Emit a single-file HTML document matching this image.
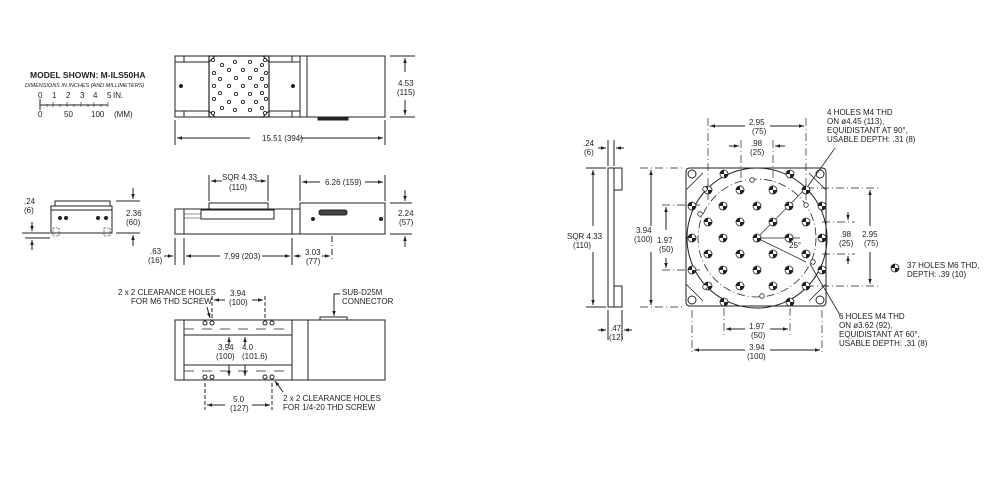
<!DOCTYPE html>
<html><head><meta charset="utf-8"><style>
body{margin:0;background:#fff;}
svg{display:block;font-family:"Liberation Sans",sans-serif;}
text{font-size:8px;fill:#222;}
</style></head><body>
<svg width="999" height="499" viewBox="0 0 999 499" xmlns="http://www.w3.org/2000/svg">
<defs>
<marker id="a" viewBox="0 0 10 10" refX="10" refY="5" markerWidth="7" markerHeight="5" orient="auto-start-reverse"><path d="M0,1.5 L10,5 L0,8.5z" fill="#222"/></marker>
<g id="h"><circle r="4" fill="#fff" stroke="#222" stroke-width="0.8"/><path d="M0,0 L4,0 A4,4 0 0 1 0,4z M0,0 L-4,0 A4,4 0 0 1 0,-4z" fill="#222"/></g>
<g id="s"><circle r="2.3" fill="#fff" stroke="#222" stroke-width="0.8"/></g>
<g id="t"><circle r="1.6" fill="#fff" stroke="#222" stroke-width="0.9"/></g>
</defs>
<g stroke="#222" fill="none" stroke-width="1">
<line x1="40" y1="105" x2="108" y2="105"/><line x1="40" y1="99" x2="40" y2="110"/>
<g stroke-width="0.6"><line x1="53" y1="102" x2="53" y2="107"/><line x1="67" y1="102" x2="67" y2="107"/><line x1="81" y1="102" x2="81" y2="107"/><line x1="94" y1="102" x2="94" y2="107"/><line x1="108" y1="102" x2="108" y2="107"/><line x1="47" y1="104" x2="47" y2="107"/><line x1="60" y1="104" x2="60" y2="107"/><line x1="74" y1="104" x2="74" y2="107"/><line x1="88" y1="104" x2="88" y2="107"/><line x1="101" y1="104" x2="101" y2="107"/></g>

<rect x="175" y="56" width="210" height="61"/>
<line x1="175" y1="62" x2="300" y2="62"/><line x1="175" y1="111" x2="300" y2="111"/>
<line x1="184" y1="56" x2="184" y2="62"/><line x1="184" y1="111" x2="184" y2="117"/>
<line x1="292" y1="56" x2="292" y2="62"/><line x1="292" y1="111" x2="292" y2="117"/>
<line x1="300" y1="56" x2="300" y2="117"/><line x1="307" y1="56" x2="307" y2="117"/>
<rect x="209" y="56" width="60" height="61" stroke-width="1.2" fill="#fff"/>
<path d="M209,62 L215,56 M263,56 L269,62 M209,111 L215,117 M263,117 L269,111"/>
<circle cx="181" cy="86" r="1.5" fill="#222"/><circle cx="293" cy="86" r="1.5" fill="#222"/>
<rect x="318" y="117" width="30" height="3" fill="#222"/>
<line x1="175" y1="120" x2="175" y2="145"/><line x1="385" y1="120" x2="385" y2="145"/>
<line x1="177" y1="138" x2="250" y2="138" marker-start="url(#a)"/><line x1="300" y1="138" x2="383" y2="138" marker-end="url(#a)"/>
<line x1="390" y1="56" x2="415" y2="56"/><line x1="390" y1="117" x2="415" y2="117"/>
<line x1="405" y1="58" x2="405" y2="72" marker-start="url(#a)"/><line x1="405" y1="100" x2="405" y2="115" marker-end="url(#a)"/>

<rect x="175" y="209" width="125" height="25"/>
<rect x="300" y="203" width="85" height="31"/>
<line x1="184" y1="209" x2="184" y2="234"/><line x1="292" y1="209" x2="292" y2="234"/>
<line x1="184" y1="214" x2="201" y2="214" stroke-width="0.5"/><line x1="184" y1="218" x2="201" y2="218" stroke-width="0.5"/>
<rect x="201" y="210" width="73" height="9"/>
<rect x="209" y="203" width="59" height="7"/>
<rect x="319" y="210" width="28" height="5" rx="2" fill="#444"/>
<circle cx="313" cy="219" r="1.5" fill="#222"/><circle cx="381" cy="219" r="1.5" fill="#222"/>
<line x1="332" y1="236" x2="332" y2="262" stroke-dasharray="6,3,1,3"/>
<line x1="209" y1="175" x2="209" y2="201"/><line x1="268" y1="175" x2="268" y2="201"/>
<line x1="211" y1="181" x2="222" y2="181" marker-start="url(#a)"/><line x1="255" y1="181" x2="266" y2="181" marker-end="url(#a)"/>
<line x1="300" y1="175" x2="300" y2="201"/><line x1="385" y1="175" x2="385" y2="201"/>
<line x1="302" y1="182" x2="320" y2="182" marker-start="url(#a)"/><line x1="365" y1="182" x2="383" y2="182" marker-end="url(#a)"/>
<line x1="390" y1="203" x2="412" y2="203"/><line x1="390" y1="234" x2="412" y2="234"/>
<line x1="405" y1="190" x2="405" y2="201" marker-end="url(#a)"/><line x1="405" y1="247" x2="405" y2="236" marker-end="url(#a)"/>
<line x1="175" y1="238" x2="175" y2="265"/><line x1="184" y1="238" x2="184" y2="265"/><line x1="292" y1="238" x2="292" y2="265"/>
<line x1="164" y1="256" x2="173" y2="256" marker-end="url(#a)"/>
<line x1="186" y1="256" x2="220" y2="256" marker-start="url(#a)"/><line x1="262" y1="256" x2="290" y2="256" marker-end="url(#a)"/>
<line x1="294" y1="256" x2="301" y2="256" marker-start="url(#a)"/><line x1="322" y1="256" x2="330" y2="256" marker-end="url(#a)"/>

<rect x="51" y="210" width="61" height="23"/>
<rect x="51" y="206" width="61" height="4"/>
<rect x="55" y="201" width="55" height="5"/>
<circle cx="60" cy="218" r="1.5" fill="#222"/><circle cx="66" cy="218" r="1.5" fill="#222"/><circle cx="98" cy="218" r="1.5" fill="#222"/><circle cx="106" cy="218" r="1.5" fill="#222"/>
<rect x="53" y="228" width="6" height="8" stroke-dasharray="2,1" stroke-width="0.6"/><rect x="104" y="228" width="6" height="8" stroke-dasharray="2,1" stroke-width="0.6"/>
<line x1="22" y1="233" x2="50" y2="233"/><line x1="25" y1="238" x2="50" y2="238"/>
<line x1="32" y1="222" x2="32" y2="231" marker-end="url(#a)"/><line x1="32" y1="250" x2="32" y2="240" marker-end="url(#a)"/>
<line x1="116" y1="201" x2="140" y2="201"/><line x1="116" y1="233" x2="140" y2="233"/>
<line x1="133" y1="188" x2="133" y2="199" marker-end="url(#a)"/><line x1="133" y1="246" x2="133" y2="235" marker-end="url(#a)"/>

<rect x="175" y="320" width="210" height="60"/>
<line x1="184" y1="320" x2="184" y2="380"/><line x1="292" y1="320" x2="292" y2="380"/><line x1="308" y1="320" x2="308" y2="380"/>
<line x1="184" y1="335" x2="292" y2="335"/><line x1="184" y1="365" x2="292" y2="365"/>
<line x1="184" y1="329" x2="292" y2="329" stroke-dasharray="10,8" stroke-width="0.7"/><line x1="184" y1="371" x2="292" y2="371" stroke-dasharray="10,8" stroke-width="0.7"/>
<circle cx="205" cy="323" r="2"/><circle cx="212" cy="323" r="2"/><circle cx="265" cy="323" r="2"/><circle cx="272" cy="323" r="2"/>
<circle cx="205" cy="377" r="2"/><circle cx="212" cy="377" r="2"/><circle cx="265" cy="377" r="2"/><circle cx="272" cy="377" r="2"/>
<rect x="320" y="317" width="27" height="3"/>
<line x1="212" y1="296" x2="212" y2="318" stroke-dasharray="4,2"/><line x1="265" y1="296" x2="265" y2="318" stroke-dasharray="4,2"/>
<line x1="214" y1="300" x2="225" y2="300" marker-start="url(#a)"/><line x1="252" y1="300" x2="263" y2="300" marker-end="url(#a)"/>
<line x1="205" y1="383" x2="205" y2="410" stroke-dasharray="4,2"/><line x1="272" y1="383" x2="272" y2="410" stroke-dasharray="4,2"/>
<line x1="207" y1="405" x2="225" y2="405" marker-start="url(#a)"/><line x1="252" y1="405" x2="270" y2="405" marker-end="url(#a)"/>
<line x1="229" y1="337" x2="229" y2="346" marker-start="url(#a)"/><line x1="229" y1="365" x2="229" y2="376" marker-end="url(#a)"/>
<line x1="245" y1="337" x2="245" y2="346" marker-start="url(#a)"/><line x1="245" y1="365" x2="245" y2="376" marker-end="url(#a)"/>
<line x1="207" y1="307" x2="210" y2="318" marker-end="url(#a)"/>
<line x1="283" y1="392" x2="275" y2="381" marker-end="url(#a)"/>
<polyline points="340,294 334,294 334,316" marker-end="url(#a)"/>

<path d="M608,168 L622,168 L622,190 L614,190 L614,286 L622,286 L622,307 L608,307z"/>
<line x1="614" y1="168" x2="614" y2="190"/><line x1="614" y1="286" x2="614" y2="307"/>
<line x1="586" y1="168" x2="606" y2="168"/><line x1="586" y1="307" x2="606" y2="307"/>
<line x1="593" y1="170" x2="593" y2="226" marker-start="url(#a)"/><line x1="593" y1="252" x2="593" y2="305" marker-end="url(#a)"/>
<line x1="608" y1="140" x2="608" y2="166"/><line x1="614" y1="140" x2="614" y2="166"/>
<line x1="598" y1="148" x2="606" y2="148" marker-end="url(#a)"/><line x1="624" y1="148" x2="616" y2="148" marker-end="url(#a)"/>
<line x1="608" y1="310" x2="608" y2="340"/><line x1="622" y1="310" x2="622" y2="340"/>
<line x1="598" y1="330" x2="606" y2="330" marker-end="url(#a)"/><line x1="632" y1="330" x2="624" y2="330" marker-end="url(#a)"/>

<path d="M690,168 L822,168 Q826,168 826,172 L826,302 Q826,306 822,306 L690,306 Q686,306 686,302 L686,172 Q686,168 690,168z"/>
<circle cx="757" cy="238" r="70"/>
<circle cx="757" cy="238" r="59" stroke-dasharray="8,3,1,3" stroke-width="0.8"/>
<path d="M686,190 L703,173 M826,190 L809,173 M686,284 L703,301 M826,284 L809,301" stroke-width="0.8"/>
<circle cx="692" cy="174" r="4"/><circle cx="820" cy="174" r="4"/><circle cx="692" cy="300" r="4"/><circle cx="820" cy="300" r="4"/>
<g stroke-dasharray="8,3,1,3" stroke-width="0.7">
<line x1="640" y1="168" x2="684" y2="168"/><line x1="640" y1="307" x2="684" y2="307"/>
<line x1="662" y1="205" x2="700" y2="205"/><line x1="662" y1="270" x2="700" y2="270"/>
<line x1="708" y1="118" x2="708" y2="200"/><line x1="806" y1="118" x2="806" y2="200"/>
<line x1="741" y1="140" x2="741" y2="190"/><line x1="773" y1="140" x2="773" y2="190"/>
<line x1="806" y1="188" x2="880" y2="188"/><line x1="806" y1="286" x2="880" y2="286"/>
<line x1="822" y1="222" x2="855" y2="222"/><line x1="822" y1="254" x2="855" y2="254"/>
<line x1="692" y1="310" x2="692" y2="355"/><line x1="822" y1="310" x2="822" y2="355"/>
<line x1="724" y1="308" x2="724" y2="335"/><line x1="790" y1="308" x2="790" y2="335"/>
</g>
<line x1="651" y1="170" x2="651" y2="226" marker-start="url(#a)"/><line x1="651" y1="252" x2="651" y2="305" marker-end="url(#a)"/>
<line x1="666" y1="207" x2="666" y2="230" marker-start="url(#a)"/><line x1="666" y1="258" x2="666" y2="268" marker-end="url(#a)"/>
<line x1="710" y1="126" x2="745" y2="126" marker-start="url(#a)"/><line x1="770" y1="126" x2="804" y2="126" marker-end="url(#a)"/>
<line x1="729" y1="146" x2="739" y2="146" marker-end="url(#a)"/><line x1="785" y1="146" x2="775" y2="146" marker-end="url(#a)"/>
<line x1="870" y1="190" x2="870" y2="226" marker-start="url(#a)"/><line x1="870" y1="252" x2="870" y2="284" marker-end="url(#a)"/>
<line x1="848" y1="212" x2="848" y2="220" marker-end="url(#a)"/><line x1="848" y1="264" x2="848" y2="256" marker-end="url(#a)"/>
<line x1="726" y1="329" x2="745" y2="329" marker-start="url(#a)"/><line x1="770" y1="329" x2="788" y2="329" marker-end="url(#a)"/>
<line x1="694" y1="350" x2="745" y2="350" marker-start="url(#a)"/><line x1="770" y1="350" x2="820" y2="350" marker-end="url(#a)"/>
<line x1="757" y1="238" x2="806" y2="188" stroke-width="0.7"/>
<line x1="757" y1="238" x2="806" y2="262" stroke-width="0.7"/>
<line x1="757" y1="238" x2="800" y2="238" stroke-width="0.7"/>
<line x1="835" y1="148" x2="808" y2="186" stroke-width="0.8"/>
<line x1="840" y1="315" x2="810" y2="264" stroke-width="0.8"/>
</g>
<!-- carriage holes top view -->
<g>
<use href="#t" x="222" y="65"/><use href="#t" x="235" y="62"/><use href="#t" x="250" y="62"/><use href="#t" x="262" y="65"/>
<use href="#t" x="214" y="73"/><use href="#t" x="229" y="70"/><use href="#t" x="243" y="70"/><use href="#t" x="256" y="70"/><use href="#t" x="266" y="73"/>
<use href="#t" x="220" y="79"/><use href="#t" x="236" y="78"/><use href="#t" x="250" y="78"/><use href="#t" x="262" y="79"/>
<use href="#t" x="214" y="86"/><use href="#t" x="229" y="86"/><use href="#t" x="243" y="86"/><use href="#t" x="256" y="86"/><use href="#t" x="266" y="86"/>
<use href="#t" x="220" y="93"/><use href="#t" x="236" y="94"/><use href="#t" x="250" y="94"/><use href="#t" x="262" y="93"/>
<use href="#t" x="214" y="99"/><use href="#t" x="229" y="102"/><use href="#t" x="243" y="102"/><use href="#t" x="256" y="102"/><use href="#t" x="266" y="99"/>
<use href="#t" x="222" y="108"/><use href="#t" x="235" y="110"/><use href="#t" x="250" y="110"/><use href="#t" x="262" y="108"/>
<use href="#t" x="213" y="60"/><use href="#t" x="265" y="60"/><use href="#t" x="213" y="113"/><use href="#t" x="265" y="113"/>
</g>
<g>
<use href="#h" x="692" y="206"/><use href="#h" x="723" y="206"/><use href="#h" x="757" y="206"/><use href="#h" x="789" y="206"/><use href="#h" x="822" y="206"/>
<use href="#h" x="740" y="190"/><use href="#h" x="773" y="190"/>
<use href="#h" x="708" y="222"/><use href="#h" x="740" y="222"/><use href="#h" x="773" y="222"/><use href="#h" x="806" y="222"/>
<use href="#h" x="692" y="238"/><use href="#h" x="723" y="238"/><use href="#h" x="757" y="238"/><use href="#h" x="789" y="238"/><use href="#h" x="822" y="238"/>
<use href="#h" x="708" y="254"/><use href="#h" x="740" y="254"/><use href="#h" x="773" y="254"/><use href="#h" x="806" y="254"/>
<use href="#h" x="692" y="270"/><use href="#h" x="723" y="270"/><use href="#h" x="757" y="270"/><use href="#h" x="789" y="270"/><use href="#h" x="822" y="270"/>
<use href="#h" x="740" y="286"/><use href="#h" x="773" y="286"/>
<use href="#h" x="724" y="174"/><use href="#h" x="790" y="174"/><use href="#h" x="724" y="302"/><use href="#h" x="790" y="302"/>
<use href="#h" x="708" y="190"/><use href="#h" x="806" y="286"/><use href="#h" x="708" y="286"/><use href="#h" x="806" y="190"/>
<use href="#h" x="895" y="268"/>
<use href="#s" x="752" y="180"/><use href="#s" x="705" y="189"/><use href="#s" x="700" y="214"/><use href="#s" x="806" y="205"/><use href="#s" x="813" y="262"/><use href="#s" x="762" y="296"/><use href="#s" x="705" y="287"/>
</g>
<text x="30" y="78" style="font-size:8.5px;font-weight:bold">MODEL SHOWN: M-ILS50HA</text>
<text x="25" y="87" style="font-size:5.5px;font-style:italic">DIMENSIONS IN INCHES (AND MILLIMETERS)</text>
<g style="font-size:5px"><text x="38" y="98">0</text><text x="52" y="98">1</text><text x="66" y="98">2</text><text x="80" y="98">3</text><text x="93" y="98">4</text><text x="107" y="98">5</text><text x="113" y="98">IN.</text><text x="38" y="117">0</text><text x="64" y="117">50</text><text x="91" y="117">100</text><text x="114" y="117">(MM)</text></g>
<text x="262" y="141">15.51 (394)</text>
<text x="398" y="86">4.53</text><text x="397" y="95">(115)</text>
<text x="222" y="180">SQR 4.33</text><text x="229" y="190">(110)</text>
<text x="325" y="185">6.26 (159)</text>
<text x="398" y="216">2.24</text><text x="399" y="225">(57)</text>
<text x="24" y="204">.24</text><text x="24" y="213">(6)</text>
<text x="126" y="216">2.36</text><text x="126" y="225">(60)</text>
<text x="150" y="254">.63</text><text x="148" y="263">(16)</text>
<text x="224" y="259">7.99 (203)</text>
<text x="305" y="255">3.03</text><text x="306" y="264">(77)</text>
<text x="118" y="295">2 x 2 CLEARANCE HOLES</text><text x="131" y="304">FOR M6 THD SCREW</text>
<text x="230" y="296">3.94</text><text x="229" y="305">(100)</text>
<text x="342" y="295">SUB-D25M</text><text x="342" y="304">CONNECTOR</text>
<text x="218" y="350">3.94</text><text x="216" y="359">(100)</text>
<text x="242" y="350">4.0</text><text x="242" y="359">(101.6)</text>
<text x="233" y="402">5.0</text><text x="230" y="411">(127)</text>
<text x="283" y="401">2 x 2 CLEARANCE HOLES</text><text x="283" y="410">FOR 1/4-20 THD SCREW</text>
<text x="583" y="146">.24</text><text x="584" y="155">(6)</text>
<text x="567" y="239">SQR 4.33</text><text x="573" y="248">(110)</text>
<text x="610" y="331">.47</text><text x="609" y="340">(12)</text>
<text x="636" y="233">3.94</text><text x="634" y="242">(100)</text>
<text x="657" y="243">1.97</text><text x="659" y="252">(50)</text>
<text x="749" y="125">2.95</text><text x="752" y="134">(75)</text>
<text x="751" y="146">.98</text><text x="750" y="155">(25)</text>
<text x="827" y="115">4 HOLES M4 THD</text><text x="827" y="124">ON ø4.45 (113),</text><text x="827" y="133">EQUIDISTANT AT 90°,</text><text x="827" y="142">USABLE DEPTH: .31 (8)</text>
<text x="840" y="237">.98</text><text x="839" y="246">(25)</text>
<text x="862" y="237">2.95</text><text x="864" y="246">(75)</text>
<text x="789" y="248">25°</text>
<text x="907" y="268">37 HOLES M6 THD,</text><text x="907" y="277">DEPTH: .39 (10)</text>
<text x="839" y="319">6 HOLES M4 THD</text><text x="839" y="328">ON ø3.62 (92),</text><text x="839" y="337">EQUIDISTANT AT 60°,</text><text x="839" y="346">USABLE DEPTH: .31 (8)</text>
<text x="749" y="329">1.97</text><text x="751" y="338">(50)</text>
<text x="749" y="350">3.94</text><text x="747" y="359">(100)</text>
</svg>
</body></html>
